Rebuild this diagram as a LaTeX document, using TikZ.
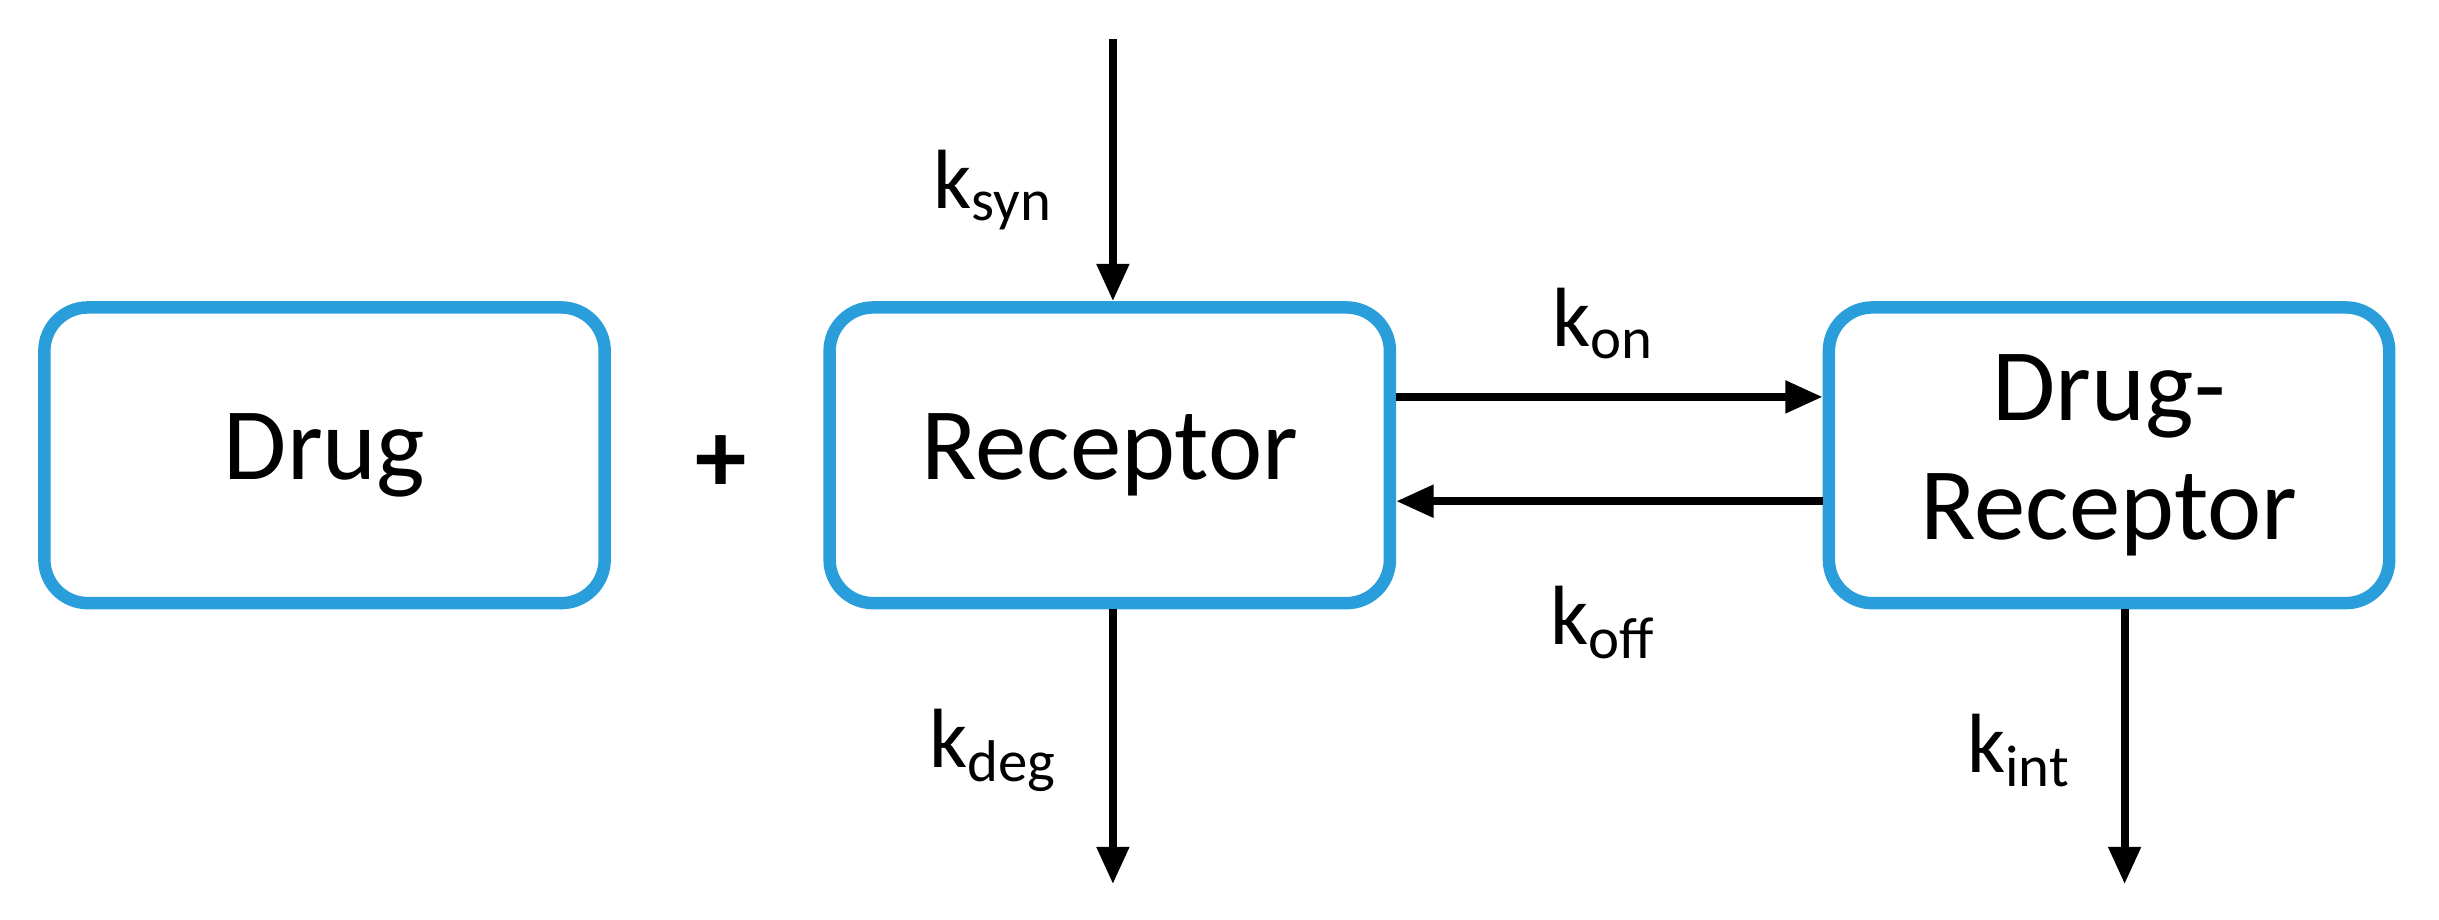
\documentclass[tikz,border=0pt]{standalone}
\usepackage{fontspec}
\setmainfont{Carlito}
\usetikzlibrary{arrows.meta}
\begin{document}
\begin{tikzpicture}[x=0.5pt,y=-0.5pt,
  box/.style={draw={rgb,255:red,41;green,158;blue,219},line width=4pt,rounded corners=14pt,minimum width=180pt,minimum height=95pt,align=center,font=\fontsize{33}{38}\selectfont,inner sep=0pt},
  arr/.style={line width=2.5pt,-{Triangle[length=12pt,width=10pt]}},
  lab/.style={font=\fontsize{27}{30}\selectfont}]
\useasboundingbox (0,0) rectangle (1567,591);
\node[box] (drug) at (208.5,292.5) {Drug};
\node[box] (rec) at (713,292.5) {Receptor};
\node[box] (dr) at (1355,292.5) {Drug-\\Receptor};
\node[font=\fontsize{33}{38}\selectfont\bfseries] (plus) at (463,298) {+};
\coordinate (top) at (715,25);
\coordinate (deg) at (715,568);
\coordinate (int) at (1365,568);
\draw[arr] (top) -- (rec.north -| top);
\draw[arr] (rec.south -| deg) -- (deg);
\draw[arr] (dr.south -| int) -- (int);
\draw[arr] ([yshift=18.75pt]rec.east) -- ([yshift=18.75pt]dr.west);
\draw[arr] ([yshift=-14.75pt]dr.west) -- ([yshift=-14.75pt]rec.east);
\node[lab] (ks) at (638,122) {k\textsubscript{syn}};
\node[lab] (kd) at (638,482) {k\textsubscript{deg}};
\node[lab] (ki) at (1297,482) {k\textsubscript{int}};
\node[lab] (kon) at (1030,208) {k\textsubscript{on}};
\node[lab] (koff) at (1030,400) {k\textsubscript{off}};
\end{tikzpicture}
\end{document}
